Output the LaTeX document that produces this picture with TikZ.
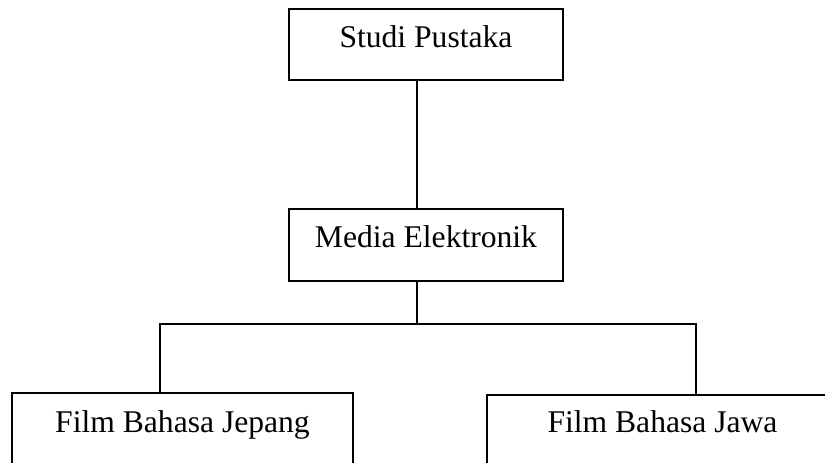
\documentclass[tikz,border=0pt]{standalone}
\usepackage{fontspec}
\setmainfont{Liberation Serif}
\begin{document}
\begin{tikzpicture}[x=0.75pt,y=-0.75pt,
  box/.style={draw,line width=1.4pt,rectangle,inner sep=0pt,anchor=base,
    font=\fontsize{23.7}{28}\selectfont},
  conn/.style={line width=1.3pt}]
\path[use as bounding box,clip] (0,0) rectangle (825,463);
\fill[white] (0,0) rectangle (825,463);
\node[box,minimum width=205.5pt,text height=29.25pt,text depth=24pt] (sp) at (426,48) {Studi Pustaka};
\node[box,minimum width=205.5pt,text height=29.25pt,text depth=24.75pt] (me) at (426,248) {Media Elektronik};
\node[box,minimum width=255.75pt,text height=29.25pt,text depth=30pt] (fj) at (182.5,432) {Film Bahasa Jepang};
\node[box,minimum width=263.25pt,text height=27.75pt,text depth=30pt] (fw) at (662.5,432) {Film Bahasa Jawa};
\coordinate (trunk) at (417,324);
\coordinate (lb) at (160,324);
\coordinate (rb) at (696,324);
\draw[conn] (sp.south -| trunk) -- (me.north -| trunk);
\draw[conn] (me.south -| trunk) -- (trunk);
\draw[conn] (fj.north -| lb) -- (lb) -- (rb) -- (fw.north -| rb);
\end{tikzpicture}
\end{document}
